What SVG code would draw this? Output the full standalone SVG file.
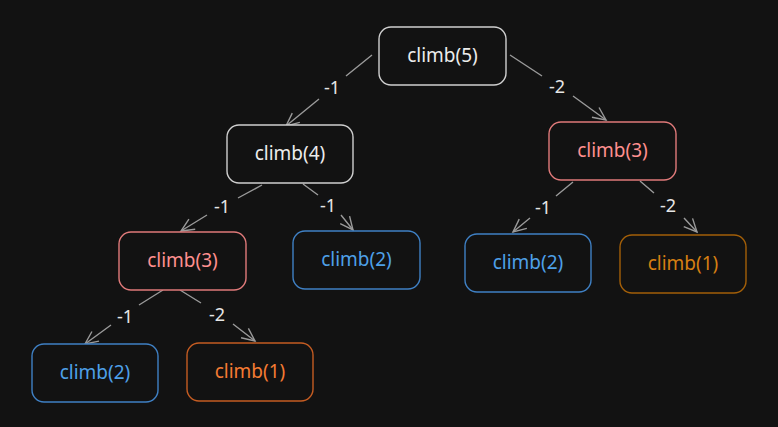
<svg xmlns="http://www.w3.org/2000/svg" width="778" height="427" viewBox="0 0 778 427">
<defs>
<style>
.box{fill:#121212;stroke-width:1.4}
.t{font-family:"Noto Sans","Liberation Sans",sans-serif;font-size:19px;text-anchor:middle;dominant-baseline:central}
.w .box{stroke:#cfcfcf}.w .t{fill:#ececec}
.r .box{stroke:#e07a7a}.r .t{fill:#ff8f8f}
.b .box{stroke:#3f80c4}.b .t{fill:#4ea0e8}
.o .box{stroke:#c45c22}.o .t{fill:#f57b32}
.y .box{stroke:#a35f08}.y .t{fill:#d67f12}
.e{fill:none;stroke:#9a9a9a;stroke-width:1.4;marker-end:url(#ah)}
.l{font-family:"Noto Sans","Liberation Sans",sans-serif;font-size:18px;fill:#e6e6e6;text-anchor:middle;dominant-baseline:central}
</style>
<marker id="ah" viewBox="-14 -8 16 16" markerWidth="16" markerHeight="16" refX="0" refY="0" orient="auto" markerUnits="userSpaceOnUse">
<path d="M-13,-6 L0,0 L-13,6" fill="none" stroke="#9a9a9a" stroke-width="1.4"/>
</marker>
</defs>
<rect width="778" height="427" fill="#121212"/>
<g id="connectors">
<path class="e" d="M372,55 L346,76 M319,99 L286,126"/>
<text class="l" x="332" y="87">-1</text>
<path class="e" d="M510,55 L542,76 M573,96 L606,120"/>
<text class="l" x="557" y="86">-2</text>
<path class="e" d="M262,185 L238,198 M207,215 L181,231"/>
<text class="l" x="222" y="206">-1</text>
<path class="e" d="M303,184 L318,195 M341,215 L353,230"/>
<text class="l" x="328" y="205">-1</text>
<path class="e" d="M163,290 L139,305 M111,325 L85,344"/>
<text class="l" x="125" y="316">-1</text>
<path class="e" d="M180,290 L201,303 M233,324 L255,341"/>
<text class="l" x="217" y="314">-2</text>
<path class="e" d="M573,182 L556,196 M530,218 L513,232"/>
<text class="l" x="543" y="207">-1</text>
<path class="e" d="M640,181 L654,193 M684,218 L697,232"/>
<text class="l" x="668" y="205">-2</text>
</g>
<g id="n5" class="w"><rect class="box" x="379" y="27" width="127" height="58" rx="12"/><text class="t" x="442.5" y="55">climb(5)</text></g>
<g id="n4" class="w"><rect class="box" x="227" y="125" width="126" height="58" rx="12"/><text class="t" x="290" y="153">climb(4)</text></g>
<g id="n3r" class="r"><rect class="box" x="549" y="122" width="127" height="58" rx="12"/><text class="t" x="612.5" y="150">climb(3)</text></g>
<g id="n3l" class="r"><rect class="box" x="119" y="232" width="127" height="58" rx="12"/><text class="t" x="182.5" y="260">climb(3)</text></g>
<g id="n2m" class="b"><rect class="box" x="293" y="231" width="127" height="58" rx="12"/><text class="t" x="356.5" y="259">climb(2)</text></g>
<g id="n2r" class="b"><rect class="box" x="465" y="234" width="126" height="58" rx="12"/><text class="t" x="528" y="262">climb(2)</text></g>
<g id="n1r" class="y"><rect class="box" x="620" y="235" width="126" height="58" rx="12"/><text class="t" x="683" y="263">climb(1)</text></g>
<g id="n2bl" class="b"><rect class="box" x="32" y="344" width="126" height="58" rx="12"/><text class="t" x="95" y="372">climb(2)</text></g>
<g id="n1b" class="o"><rect class="box" x="187" y="343" width="126" height="58" rx="12"/><text class="t" x="250" y="371">climb(1)</text></g>
</svg>
